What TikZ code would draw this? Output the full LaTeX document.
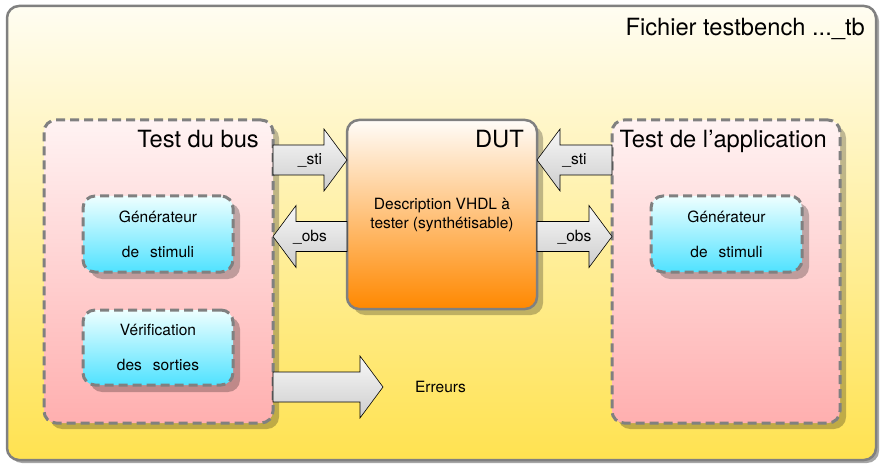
\documentclass[tikz,border=0pt]{standalone}
\usepackage{fontspec}
\setmainfont{TeX Gyre Heros}
\usetikzlibrary{shadows,calc}
\definecolor{frametop}{RGB}{255,253,242}
\definecolor{framebot}{RGB}{255,226,80}
\definecolor{pinktop}{RGB}{255,243,243}
\definecolor{pinkbot}{RGB}{255,175,175}
\definecolor{cyantop}{RGB}{238,255,255}
\definecolor{cyanbot}{RGB}{80,226,255}
\definecolor{duttop}{RGB}{255,252,248}
\definecolor{dutbot}{RGB}{255,136,0}
\definecolor{arrtop}{RGB}{248,248,248}
\definecolor{arrbot}{RGB}{205,205,205}
\definecolor{linegray}{RGB}{128,128,128}
\newcommand\bigfont{\fontsize{23.7}{28}\selectfont}
\newcommand\smallfont{\fontsize{15.5}{19}\selectfont}
\newcommand\BlockArrow[2]{%
  \draw[blockarrow] let \p1=#1, \p2=#2, \p3=($#2!23pt!#1$) in
   (\x1,\y2+15pt) -- (\x3,\y2+15pt) -- (\x3,\y2+31pt) -- (\x2,\y2)
   -- (\x3,\y2-31pt) -- (\x3,\y2-15pt) -- (\x1,\y2-15pt) -- cycle;}
\tikzset{
  basebox/.style={rectangle, rounded corners=12pt, inner sep=0pt, outer sep=0pt},
  framebox/.style={basebox, draw=linegray, line width=2.5pt, top color=frametop, bottom color=framebot,
    drop shadow={shadow xshift=3pt, shadow yshift=-3pt, opacity=0.35, fill=black}},
  dashbox/.style={basebox, draw=linegray, line width=3pt, dash pattern=on 9pt off 5pt},
  testbox/.style={dashbox, top color=pinktop, bottom color=pinkbot,
    drop shadow={shadow xshift=6pt, shadow yshift=-6pt, opacity=0.25, fill=black}},
  genbox/.style={dashbox, top color=cyantop, bottom color=cyanbot,
    drop shadow={shadow xshift=7pt, shadow yshift=-7pt, opacity=0.25, fill=black}},
  dutbox/.style={basebox, draw=linegray, line width=2.5pt, top color=duttop, bottom color=dutbot,
    drop shadow={shadow xshift=6pt, shadow yshift=-6pt, opacity=0.25, fill=black}},
  blockarrow/.style={draw=black, line width=0.6pt, line join=miter, top color=arrtop, bottom color=arrbot},
  bigtext/.style={font=\bigfont, inner sep=0pt, anchor=base east},
  smalltext/.style={font=\smallfont, inner sep=0pt, align=center},
  gentext/.style={font=\fontsize{15.5}{35}\selectfont, inner sep=0pt, align=center},
  arrowtext/.style={font=\smallfont, inner sep=0pt, anchor=base}
}
\begin{document}
\begin{tikzpicture}[x=1pt,y=-1pt]
\useasboundingbox (0,0) rectangle (881,465);
% outer frame
\node[framebox, minimum width=869pt, minimum height=454pt] (frame) at (441.5,233) {};
\node[bigtext] (frametitle) at (865,36) {Fichier testbench ...\_tb};
% test boxes
\node[testbox, minimum width=229pt, minimum height=303pt] (bus) at (158.5,271.5) {};
\node[bigtext] (bustitle) at (259,148) {Test du bus};
\node[testbox, minimum width=228pt, minimum height=303pt] (app) at (726,271.5) {};
\node[bigtext] (apptitle) at (827,148) {Test de l’application};
% inner boxes
\node[genbox, minimum width=150pt, minimum height=76pt] (gen1) at (158,234) {};
\node[gentext] (gen1text) at (gen1.center) {Générateur\\de\hspace{11pt}stimuli};
\node[genbox, minimum width=150pt, minimum height=75pt] (verif) at (158,347.5) {};
\node[gentext] (veriftext) at (verif.center) {Vérification\\des\hspace{11pt}sorties};
\node[genbox, minimum width=151pt, minimum height=76pt] (gen2) at (726.5,234) {};
\node[gentext] (gen2text) at (gen2.center) {Générateur\\de\hspace{11pt}stimuli};
% DUT
\node[dutbox, minimum width=190pt, minimum height=189pt] (dut) at (442,214.5) {};
\node[bigtext] (duttitle) at (524,148) {DUT};
\node[smalltext] (duttext) at ($(dut.center)+(0,1)$) {Description VHDL à\\tester (synthétisable)};
% arrow levels
\coordinate (ysti) at (0,160);
\coordinate (yobs) at (0,236.5);
\coordinate (yerr) at (0,387);
\coordinate (errtip) at (383,387);
% arrows
\BlockArrow{(bus.east |- ysti)}{(dut.west |- ysti)}
\node[arrowtext] (lsti) at ($(bus.east |- ysti)!0.5!(dut.west |- ysti)+(0,5)$) {\_sti};
\BlockArrow{(dut.west |- yobs)}{(bus.east |- yobs)}
\node[arrowtext] (lobs) at ($(bus.east |- yobs)!0.5!(dut.west |- yobs)+(0,5)$) {\_obs};
\BlockArrow{(app.west |- ysti)}{(dut.east |- ysti)}
\node[arrowtext] (rsti) at ($(dut.east |- ysti)!0.5!(app.west |- ysti)+(0,5)$) {\_sti};
\BlockArrow{(dut.east |- yobs)}{(app.west |- yobs)}
\node[arrowtext] (robs) at ($(dut.east |- yobs)!0.5!(app.west |- yobs)+(0,5)$) {\_obs};
\BlockArrow{(bus.east |- yerr)}{(errtip)}
\node[font=\smallfont, inner sep=0pt] (erreurs) at (440.5,387) {Erreurs};
\end{tikzpicture}
\end{document}
